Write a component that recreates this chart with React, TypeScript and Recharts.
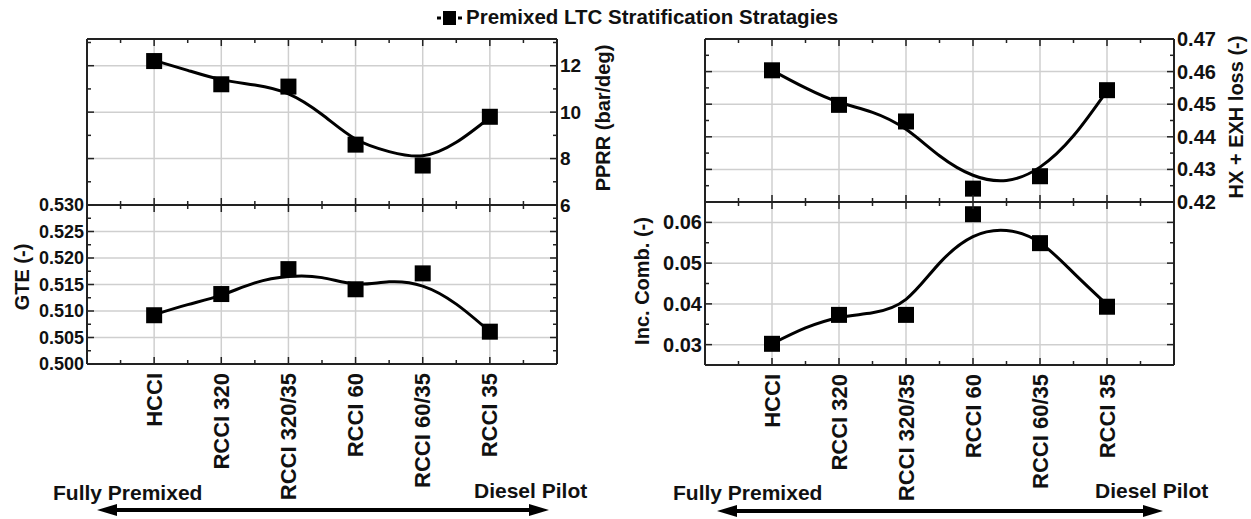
import React from 'react';
import { ComposedChart, Line, Scatter, XAxis, YAxis, CartesianGrid } from 'recharts';

const categories = ['HCCI', 'RCCI 320', 'RCCI 320/35', 'RCCI 60', 'RCCI 60/35', 'RCCI 35'];

// measured points
const pprr = [12.2, 11.2, 11.1, 8.6, 7.7, 9.8];
const gte = [0.5092, 0.5132, 0.5179, 0.5141, 0.5171, 0.5061];
const hxLoss = [0.4604, 0.4498, 0.4447, 0.4241, 0.4279, 0.4543];
const incComb = [0.0302, 0.0373, 0.0373, 0.062, 0.0549, 0.0393];

// trend curves at half-category steps
const fitX = [0, 0.5, 1, 1.5, 2, 2.5, 3, 3.5, 4, 4.5, 5];
const pprrFit = [12.23, 11.8, 11.4, 11.17, 10.79, 9.9, 8.84, 8.3, 8.12, 8.7, 9.77];
const gteFit = [0.5093, 0.5112, 0.513, 0.5153, 0.5165, 0.5163, 0.5151, 0.5155, 0.5147, 0.5113, 0.5061];
const hxFit = [0.4604, 0.455, 0.4506, 0.4475, 0.4423, 0.4342, 0.4282, 0.4266, 0.4307, 0.4403, 0.4541];
const incFit = [0.0302, 0.0341, 0.0366, 0.0378, 0.0411, 0.05, 0.0565, 0.058, 0.055, 0.0476, 0.0398];

// axis ticks
const xMajor = [0, 1, 2, 3, 4, 5];
const xTicks = [-0.5, 0, 0.5, 1, 1.5, 2, 2.5, 3, 3.5, 4, 4.5, 5, 5.5];
const pprrMajor = [6, 8, 10, 12];
const pprrMinor = [7, 9, 11, 13];
const gteMajor = [0.5, 0.505, 0.51, 0.515, 0.52, 0.525, 0.53];
const gteMinor = [0.5025, 0.5075, 0.5125, 0.5175, 0.5225, 0.5275];
const hxMajor = [0.42, 0.43, 0.44, 0.45, 0.46, 0.47];
const hxMinor = [0.425, 0.435, 0.445, 0.455, 0.465];
const incMajor = [0.03, 0.04, 0.05, 0.06];
const incMinor = [0.035, 0.045, 0.055];

const FONT = '"Liberation Sans", Arial, Helvetica, sans-serif';
const INK = '#111';

type Side = 'left' | 'right' | 'top' | 'bottom';

const near = (a: number, b: number) => Math.abs(a - b) < 1e-9;

function tickRenderer(side: Side, majors: number[], label?: (v: number) => string, fontSize = 18) {
  return (props: any) => {
    const { x, y, payload } = props;
    const v = payload.value as number;
    const major = majors.some((m) => near(m, v));
    const len = major ? 7 : 4;
    const dx = side === 'left' ? len : side === 'right' ? -len : 0;
    const dy = side === 'top' ? len : side === 'bottom' ? -len : 0;
    let text: React.ReactNode = null;
    if (label && major) {
      if (side === 'bottom') {
        text = (
          <text transform={`translate(${x},${y + 9}) rotate(-90)`} textAnchor="end" dominantBaseline="central"
            fontSize={22} fontWeight="bold" fill={INK}>{label(v)}</text>
        );
      } else if (side === 'left') {
        text = <text x={x - 3} y={y} textAnchor="end" dominantBaseline="central" fontSize={fontSize} fontWeight="bold" fill={INK}>{label(v)}</text>;
      } else if (side === 'right') {
        text = <text x={x + 3} y={y} textAnchor="start" dominantBaseline="central" fontSize={fontSize} fontWeight="bold" fill={INK}>{label(v)}</text>;
      }
    }
    return (
      <g>
        <line x1={x} y1={y} x2={x + dx} y2={y + dy} stroke="#222" strokeWidth={1.5} />
        {text}
      </g>
    );
  };
}

const Square = (p: any) =>
  p.cx == null ? null : <rect x={p.cx - 8} y={p.cy - 8} width={16} height={16} fill="#000" />;

interface SubplotProps {
  left: number;
  top: number;
  width: number;
  height: number;
  margin: { top: number; right: number; bottom: number; left: number };
  leftW: number;
  rightW: number;
  topH: number;
  bottomH: number;
  points: number[];
  fit: number[];
  domain: [number, number];
  majors: number[];
  minors: number[];
  labelSide: 'left' | 'right';
  fmt: (v: number) => string;
  fontSize: number;
  showCats: boolean;
}

const axisLine = { stroke: '#222', strokeWidth: 2 };

function Subplot(p: SubplotProps) {
  const pts = categories.map((_, i) => ({ x: i, y: p.points[i] }));
  const fitPts = fitX.map((x, i) => ({ x, y: p.fit[i] }));
  const yTicks = [...p.majors, ...p.minors].sort((a, b) => a - b);
  const catLabel = (v: number) => categories[Math.round(v)];
  return (
    <div style={{ position: 'absolute', left: p.left, top: p.top }}>
      <ComposedChart width={p.width} height={p.height} margin={p.margin}>
        <CartesianGrid xAxisId="b" yAxisId="l" horizontalValues={p.majors} verticalValues={xMajor}
          stroke="#cfcfcf" strokeWidth={1.5} />
        <XAxis xAxisId="b" dataKey="x" type="number" domain={[-1, 6]} allowDataOverflow ticks={xTicks} interval={0}
          orientation="bottom" height={p.bottomH} tickSize={0} tickMargin={0} tickLine={false} axisLine={axisLine}
          tick={tickRenderer('bottom', xMajor, p.showCats ? catLabel : undefined)} />
        <XAxis xAxisId="t" dataKey="x" type="number" domain={[-1, 6]} allowDataOverflow ticks={xTicks} interval={0}
          orientation="top" height={p.topH} tickSize={0} tickMargin={0} tickLine={false} axisLine={axisLine}
          tick={tickRenderer('top', xMajor)} />
        <YAxis yAxisId="l" type="number" domain={p.domain} allowDataOverflow ticks={yTicks} interval={0}
          orientation="left" width={p.leftW} tickSize={0} tickMargin={0} tickLine={false} axisLine={axisLine}
          tick={tickRenderer('left', p.majors, p.labelSide === 'left' ? p.fmt : undefined, p.fontSize)} />
        <YAxis yAxisId="r" type="number" domain={p.domain} allowDataOverflow ticks={yTicks} interval={0}
          orientation="right" width={p.rightW} tickSize={0} tickMargin={0} tickLine={false} axisLine={axisLine}
          tick={tickRenderer('right', p.majors, p.labelSide === 'right' ? p.fmt : undefined, p.fontSize)} />
        <Line xAxisId="b" yAxisId="l" data={fitPts} dataKey="y" type="natural" stroke="#000" strokeWidth={3}
          dot={false} activeDot={false} isAnimationActive={false} />
        <Scatter xAxisId="b" yAxisId="l" data={pts} dataKey="y" shape={Square} isAnimationActive={false} />
      </ComposedChart>
    </div>
  );
}

function Arrow({ x1, x2, y }: { x1: number; x2: number; y: number }) {
  return (
    <g>
      <line x1={x1 + 14} y1={y} x2={x2 - 14} y2={y} stroke="#000" strokeWidth={4} />
      <polygon points={`${x1},${y} ${x1 + 20},${y - 6} ${x1 + 20},${y + 6}`} fill="#000" />
      <polygon points={`${x2},${y} ${x2 - 20},${y - 6} ${x2 - 20},${y + 6}`} fill="#000" />
    </g>
  );
}

export default function App() {
  return (
    <div style={{ position: 'absolute', left: 0, top: 0, width: 1251, height: 519, background: '#fff', fontFamily: FONT }}>
      <Subplot left={0} top={0} width={620} height={215} margin={{ top: 38, left: 86, right: 0, bottom: 9 }}
        leftW={1} rightW={63} topH={1} bottomH={1} points={pprr} fit={pprrFit} domain={[6, 13.15]}
        majors={pprrMajor} minors={pprrMinor} labelSide="right" fmt={(v) => String(v)} fontSize={19} showCats={false} />
      <Subplot left={0} top={190} width={620} height={329} margin={{ top: 14, left: 0, right: 62, bottom: 0 }}
        leftW={87} rightW={1} topH={1} bottomH={155} points={gte} fit={gteFit} domain={[0.5, 0.53]}
        majors={gteMajor} minors={gteMinor} labelSide="left" fmt={(v) => v.toFixed(3)} fontSize={18} showCats />
      <Subplot left={620} top={0} width={631} height={215} margin={{ top: 38, left: 84, right: 0, bottom: 12 }}
        leftW={1} rightW={77} topH={1} bottomH={1} points={hxLoss} fit={hxFit} domain={[0.42, 0.47]}
        majors={hxMajor} minors={hxMinor} labelSide="right" fmt={(v) => v.toFixed(2)} fontSize={20} showCats={false} />
      <Subplot left={620} top={190} width={631} height={329} margin={{ top: 11, left: 0, right: 76, bottom: 0 }}
        leftW={85} rightW={1} topH={1} bottomH={154} points={incComb} fit={incFit} domain={[0.025, 0.065]}
        majors={incMajor} minors={incMinor} labelSide="left" fmt={(v) => v.toFixed(2)} fontSize={20} showCats />

      <svg width={1251} height={519} style={{ position: 'absolute', left: 0, top: 0, pointerEvents: 'none' }}>
        <g fill={INK} fontWeight="bold">
          <line x1={437} y1={18} x2={441} y2={18} stroke="#000" strokeWidth={3} />
          <rect x={443} y={11} width={13} height={14} fill="#000" />
          <line x1={458} y1={18} x2={462} y2={18} stroke="#000" strokeWidth={3} />
          <text x={466} y={24} fontSize={20.5}>Premixed LTC Stratification Stratagies</text>

          <text transform="translate(603,118) rotate(-90)" textAnchor="middle" dominantBaseline="central" fontSize={20}>PPRR (bar/deg)</text>
          <text transform="translate(22,277) rotate(-90)" textAnchor="middle" dominantBaseline="central" fontSize={20}>GTE (-)</text>
          <text transform="translate(1236,117) rotate(-90)" textAnchor="middle" dominantBaseline="central" fontSize={20}>HX + EXH loss (-)</text>
          <text transform="translate(642,281) rotate(-90)" textAnchor="middle" dominantBaseline="central" fontSize={20}>Inc. Comb. (-)</text>

          <text x={53} y={500} fontSize={21}>Fully Premixed</text>
          <text x={474} y={498} fontSize={21}>Diesel Pilot</text>
          <text x={673} y={500} fontSize={21}>Fully Premixed</text>
          <text x={1095} y={498} fontSize={21}>Diesel Pilot</text>
        </g>
        <Arrow x1={97} x2={549} y={510} />
        <Arrow x1={717} x2={1163} y={511} />
      </svg>
    </div>
  );
}
